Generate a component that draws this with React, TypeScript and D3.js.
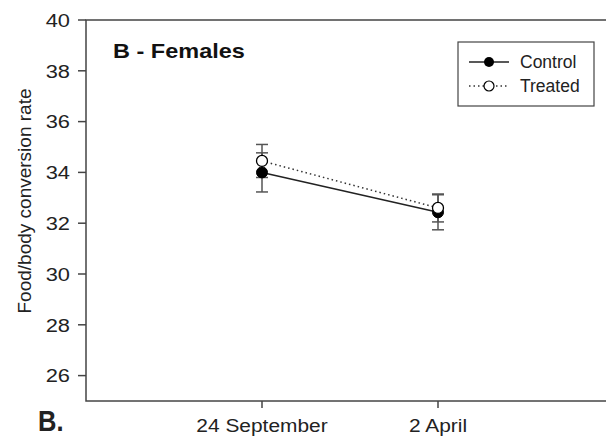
import React from "react";
import * as d3 from "d3";

const categories = ["24 September", "2 April"];
const controlMean = [34.0, 32.43];
const controlErr = [0.77, 0.69];
const treatedMean = [34.45, 32.6];
const treatedErr = [0.65, 0.55];
const yTicks = [26, 28, 30, 32, 34, 36, 38, 40];

const W = 606;
const H = 438;
const FONT = "Liberation Sans, Arial, Helvetica, sans-serif";

export default function App() {
  const left = 86, top = 20, bottom = 401;
  const x = d3.scaleLinear().domain([0, 3]).range([left, left + 528]);
  const y = d3.scaleLinear().domain([25, 40]).range([bottom, top]);
  const xi = (i: number) => x(i + 1);
  const line = d3.line<number>().x((_, i) => xi(i)).y((d) => y(d));

  const errBars = (means: number[], errs: number[], key: string) =>
    means.map((m, i) => {
      const cx = xi(i);
      const y1 = y(m + errs[i]);
      const y2 = y(m - errs[i]);
      return (
        <g key={key + i} stroke="#555" strokeWidth={1.5}>
          <line x1={cx} x2={cx} y1={y1} y2={y2} />
          <line x1={cx - 6} x2={cx + 6} y1={y1} y2={y1} />
          <line x1={cx - 6} x2={cx + 6} y1={y2} y2={y2} />
        </g>
      );
    });

  return (
    <svg width={W} height={H} style={{ position: "absolute", left: 0, top: 0, background: "#fff" }} fontFamily={FONT}>
      <rect x={0} y={0} width={W} height={H} fill="#fff" />
      {/* frame */}
      <rect x={left} y={top} width={528} height={bottom - top} fill="none" stroke="#444" strokeWidth={1.5} />
      {/* y ticks */}
      {yTicks.map((t) => (
        <g key={t}>
          <line x1={left - 8} x2={left} y1={y(t)} y2={y(t)} stroke="#444" strokeWidth={1.5} />
          <text transform={`translate(${left - 16},${y(t)}) scale(1.15,1)`} dy="0.36em" textAnchor="end" fontSize={19} fill="#222">
            {t}
          </text>
        </g>
      ))}
      {/* x ticks */}
      {categories.map((c, i) => (
        <g key={c}>
          <line x1={xi(i)} x2={xi(i)} y1={bottom} y2={bottom + 7} stroke="#444" strokeWidth={1.5} />
          <text transform={`translate(${xi(i)},${bottom + 31}) scale(1.1,1)`} textAnchor="middle" fontSize={19} fill="#222">
            {c}
          </text>
        </g>
      ))}
      <text transform={`translate(31,201) rotate(-90)`} textAnchor="middle" fontSize={19} fill="#222">
        Food/body conversion rate
      </text>
      <text transform="translate(113,58) scale(1.12,1)" fontSize={21} fontWeight="bold" fill="#111">B - Females</text>
      <text transform="translate(38,431) scale(0.85,1)" fontSize={30} fontWeight="bold" fill="#222">B.</text>

      {errBars(controlMean, controlErr, "c")}
      {errBars(treatedMean, treatedErr, "t")}
      <path d={line(treatedMean) || ""} fill="none" stroke="#333" strokeWidth={1.5} strokeDasharray="1.5,3" />
      <path d={line(controlMean) || ""} fill="none" stroke="#222" strokeWidth={1.5} />
      {controlMean.map((m, i) => (
        <circle key={"cc" + i} cx={xi(i)} cy={y(m)} r={5.5} fill="#000" stroke="#000" />
      ))}
      {treatedMean.map((m, i) => (
        <circle key={"tc" + i} cx={xi(i)} cy={y(m)} r={5.5} fill="#fff" stroke="#000" strokeWidth={1.3} />
      ))}

      {/* legend */}
      <g>
        <rect x={458} y={42} width={136} height={64} fill="#fff" stroke="#444" strokeWidth={1.2} />
        <line x1={469} x2={509} y1={62} y2={62} stroke="#222" strokeWidth={1.5} />
        <circle cx={489} cy={62} r={5} fill="#000" />
        <text x={520} y={62} dy="0.36em" fontSize={17.5} fill="#222">Control</text>
        <line x1={469} x2={509} y1={86} y2={86} stroke="#333" strokeWidth={1.5} strokeDasharray="1.5,3" />
        <circle cx={489} cy={86} r={5} fill="#fff" stroke="#000" strokeWidth={1.2} />
        <text x={520} y={86} dy="0.36em" fontSize={17.5} fill="#222">Treated</text>
      </g>
    </svg>
  );
}
